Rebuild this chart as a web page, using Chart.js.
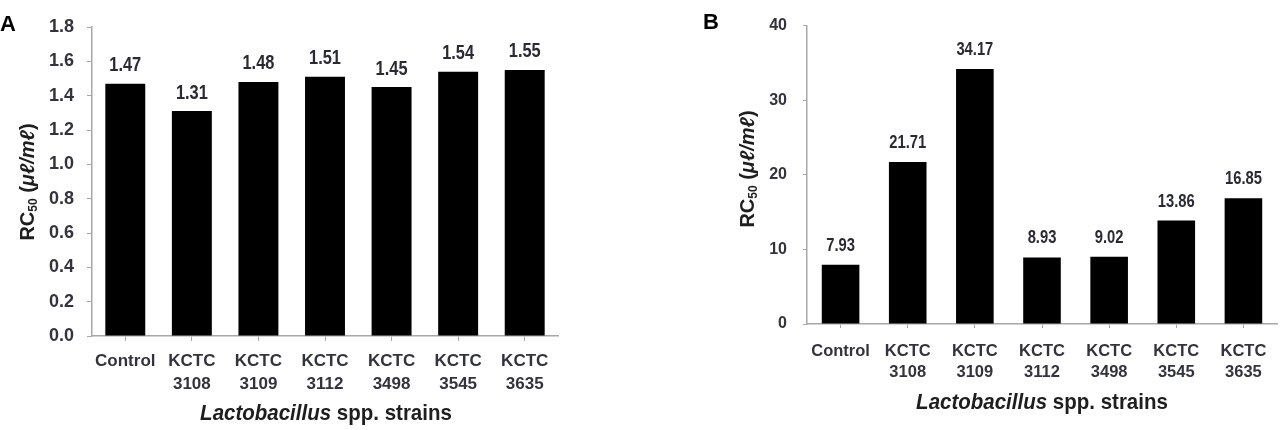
<!DOCTYPE html>
<html>
<head>
<meta charset="utf-8">
<script src="https://cdn.jsdelivr.net/npm/chart.js@4.4.1/dist/chart.umd.min.js"></script>
<style>
  body { margin:0; background:#fff; width:1287px; height:430px; overflow:hidden; position:relative; }
  .box { position:absolute; top:0; height:430px; }
  .txt { position:absolute; font-family:'Liberation Sans',Arial,sans-serif; font-weight:bold; color:#1e1e1e; white-space:nowrap; }
  .ytitle { transform:translate(-50%,-50%) rotate(-90deg); font-size:20px; }
  .xtitle { transform:translate(-50%,-50%) scaleY(1.1); font-size:20.5px; }
  .ytitle sub { font-size:12px; vertical-align:-3px; }
  .panel { font-size:22px; color:#000; }
</style>
</head>
<body>
<div class="box" style="left:0;width:650px"><canvas id="chartA"></canvas></div>
<div class="box" style="left:700px;width:587px"><canvas id="chartB"></canvas></div>

<div class="txt panel" style="left:0;top:11px">A</div>
<div class="txt panel" style="left:703px;top:9px">B</div>
<div class="txt ytitle" style="left:28px;top:182px">RC<sub>50</sub> (<i>μℓ/mℓ</i>)</div>
<div class="txt ytitle" style="left:748px;top:169px">RC<sub>50</sub> (<i>μℓ/mℓ</i>)</div>
<div class="txt xtitle" style="left:326px;top:412px"><i>Lactobacillus</i> spp. strains</div>
<div class="txt xtitle" style="left:1042px;top:401px"><i>Lactobacillus</i> spp. strains</div>

<script>
const strains = ['Control', ['KCTC','3108'], ['KCTC','3109'], ['KCTC','3112'], ['KCTC','3498'], ['KCTC','3545'], ['KCTC','3635']];
const rcA = [1.47, 1.31, 1.48, 1.51, 1.45, 1.54, 1.55];
const rcB = [7.93, 21.71, 34.17, 8.93, 9.02, 13.86, 16.85];

const fam = "'Liberation Sans',Arial,sans-serif";

// writes the value above each bar (squeezed a bit, the original uses a narrow face)
const valueLabels = {
    id:'valueLabels',
    afterDatasetsDraw(chart, args, opts) {
        const ctx = chart.ctx;
        const meta = chart.getDatasetMeta(0);
        ctx.save();
        ctx.font = opts.font;
        ctx.fillStyle = '#2a2a35';
        ctx.textAlign = 'center';
        ctx.textBaseline = 'middle';
        meta.data.forEach((bar, i) => {
            const v = chart.data.datasets[0].data[i];
            ctx.save();
            ctx.translate(bar.x, bar.y - opts.gap);
            ctx.scale(0.82, 1);
            ctx.fillText(v.toFixed(2), 0, 0);
            ctx.restore();
        });
        ctx.restore();
    }
};

function makeChart(id, values, cfg) {
    return new Chart(document.getElementById(id), {
        type:'bar',
        data:{
            labels:strains,
            datasets:[{
                data:values,
                backgroundColor:'#000',
                borderWidth:0,
                categoryPercentage:1,
                barPercentage:cfg.barPct
            }]
        },
        plugins:[valueLabels],
        options:{
            responsive:true,
            maintainAspectRatio:false,
            animation:false,
            layout:{ padding:cfg.padding },
            plugins:{
                legend:{ display:false },
                tooltip:{ enabled:false },
                valueLabels:{ font:cfg.labelWeight + ' ' + cfg.labelSize + 'px ' + fam, gap:cfg.gap }
            },
            scales:{
                x:{
                    afterFit:(s) => { s.height = 70 },
                    grid:{ drawOnChartArea:false, offset:false, tickLength:cfg.tick, color:'#a8a8a8' },
                    border:{ color:'#a8a8a8', width:1.5 },
                    ticks:{
                        color:'#33333d',
                        padding:cfg.xPad,
                        maxRotation:0,
                        autoSkip:false,
                        font:{ family:fam, size:cfg.xSize, weight:'bold', lineHeight:cfg.xLine }
                    }
                },
                y:{
                    min:0,
                    max:cfg.max,
                    afterFit:(s) => { s.width = cfg.yWidth },
                    grid:{ drawOnChartArea:false, tickLength:cfg.tick, color:'#a8a8a8' },
                    border:{ color:'#a8a8a8', width:1.5 },
                    ticks:{
                        stepSize:cfg.step,
                        color:'#33333d',
                        padding:cfg.yPad,
                        callback:cfg.fmt,
                        font:{ family:fam, size:cfg.ySize, weight:'bold' }
                    }
                }
            }
        }
    });
}

makeChart('chartA', rcA, {
    barPct:0.6, padding:{ top:27, left:0, right:92, bottom:24 },
    labelSize:20, labelWeight:'bold', gap:18, tick:5, xPad:9, xSize:17, xLine:1.35,
    max:1.8, step:0.2, yWidth:92, yPad:13, ySize:18,
    fmt:(v) => v.toFixed(1)
});

makeChart('chartB', rcB, {
    barPct:0.56, padding:{ top:14, left:0, right:10, bottom:36 },
    labelSize:18, labelWeight:'bold', gap:19, tick:4, xPad:12, xSize:16.5, xLine:1.33,
    max:40, step:10, yWidth:107, yPad:16, ySize:16,
    fmt:(v) => v
});
</script>
</body>
</html>
